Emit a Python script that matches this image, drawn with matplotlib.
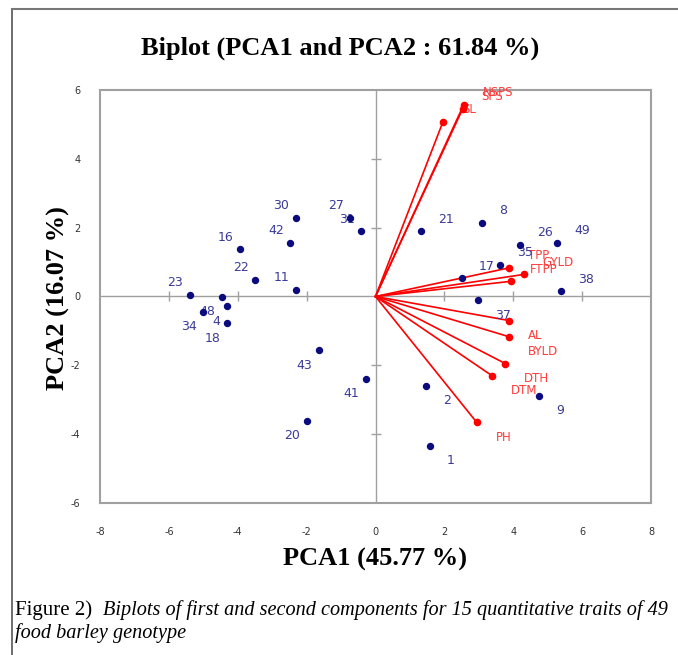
import numpy as np
import matplotlib.pyplot as plt

plt.rcParams['axes.unicode_minus'] = False

# genotype scores (PCA1, PCA2)
geno = ['30', '27', '31', '16', '42', '22', '11', '23', '48', '4', '34', '18',
        '43', '41', '20', '21', '8', '26', '49', '35', '17', '38', '37', '2', '1', '9']
g_x = [-2.32, -0.74, -0.42, -3.93, -2.47, -3.50, -2.32, -5.40, -4.47, -4.32, -5.00, -4.32,
       -1.65, -0.28, -1.99, 1.33, 3.09, 4.20, 5.28, 3.62, 2.51, 5.38, 2.98, 1.48, 1.58, 4.75]
g_y = [2.29, 2.29, 1.90, 1.37, 1.56, 0.49, 0.19, 0.05, -0.01, -0.29, -0.45, -0.78,
       -1.56, -2.39, -3.61, 1.90, 2.14, 1.50, 1.56, 0.92, 0.53, 0.15, -0.11, -2.59, -4.34, -2.88]

# trait loadings (vector ends)
traits = ['NSPS', 'SPS', 'SL', 'TPP', 'GYLD', 'FTPP', 'AL', 'BYLD', 'DTH', 'DTM', 'PH']
t_x = [2.56, 2.53, 1.96, 3.87, 4.30, 3.92, 3.88, 3.88, 3.77, 3.38, 2.94]
t_y = [5.57, 5.45, 5.08, 0.83, 0.64, 0.44, -0.70, -1.17, -1.95, -2.30, -3.66]

ticks = [-8, -6, -4, -2, 0, 2, 4, 6, 8]
yticks = [-6, -4, -2, 0, 2, 4, 6]

navy = '#0b0b80'
lab_blue = '#3a3a98'
red = '#ff0000'
grey = '#a0a0a0'
px = 0.72  # pixels -> points at dpi 100

fig = plt.figure(figsize=(6.78, 6.55), dpi=100)
ax = fig.add_axes([0.1475, 0.2321, 0.8127, 0.6305])
ax.set_xlim(-8, 8)
ax.set_ylim(-6, 6)

# center cross with tick marks
ax.axhline(0, color=grey, lw=1, zorder=1)
ax.axvline(0, color=grey, lw=1, zorder=1)
xt = [t for t in ticks if t not in (-8, 0, 8)]
yt = [t for t in yticks if t not in (-6, 0, 6)]
ax.plot(xt, np.zeros(len(xt)), ls='none', marker='|', ms=7, mew=1, color=grey, zorder=1)
ax.plot(np.zeros(len(yt)), yt, ls='none', marker='_', ms=7, mew=1, color=grey, zorder=1)

# trait vectors
for name, x, y in zip(traits, t_x, t_y):
    ax.plot([0, x], [0, y], color=red, lw=1.2, zorder=2)
    ax.plot(x, y, 'o', color=red, ms=4.5, zorder=4)
    dy = -12 if y > 0 else 15
    ax.annotate(name, (x, y), xytext=(19 * px, -dy * px), textcoords='offset points',
                ha='left', va='center', color='#ff3b3b', fontsize=8.5, zorder=3)

# genotypes
ax.plot(g_x, g_y, 'o', color=navy, ms=4.3, ls='none', zorder=5)
for name, x, y in zip(geno, g_x, g_y):
    dy = -12 if y > 0 else 15
    if x < 0:
        dx, ha = -6.5, 'right'
    else:
        dx, ha = 17, 'left'
    ax.annotate(name, (x, y), xytext=(dx * px, -dy * px), textcoords='offset points',
                ha=ha, va='center', color=lab_blue, fontsize=9, zorder=3)

ax.set_xticks(ticks)
ax.set_yticks(yticks)
ax.tick_params(length=0, labelsize=7, colors='#333333')
ax.tick_params(axis='x', pad=17)
ax.tick_params(axis='y', pad=14)
for s in ax.spines.values():
    s.set_color(grey)
    s.set_linewidth(1.5)

serif = 'Liberation Serif'
fig.text(0.502, 0.926, 'Biplot (PCA1 and PCA2 : 61.84 %)', ha='center', va='center',
         family=serif, weight='bold', fontsize=19)
fig.text(0.553, 0.146, 'PCA1 (45.77 %)', ha='center', va='center',
         family=serif, weight='bold', fontsize=19)
fig.text(0.086, 0.545, 'PCA2 (16.07 %)', ha='center', va='center', rotation=90,
         family=serif, weight='bold', fontsize=19)

# caption
fig.text(0.022, 0.069, 'Figure 2)', ha='left', va='center', family=serif, fontsize=15)
fig.text(0.152, 0.069, 'Biplots of first and second components for 15 quantitative traits of 49',
         ha='left', va='center', family=serif, style='italic', fontsize=14.6)
fig.text(0.022, 0.033, 'food barley genotype', ha='left', va='center',
         family=serif, style='italic', fontsize=14.6)

# outer frame (left and top edges)
fig.add_artist(plt.Line2D([0.018, 0.018], [0, 0.986], color='#555555', lw=1.2))
fig.add_artist(plt.Line2D([0.018, 1.0], [0.986, 0.986], color='#777777', lw=1.5))

fig.savefig('out.png', dpi=100)
